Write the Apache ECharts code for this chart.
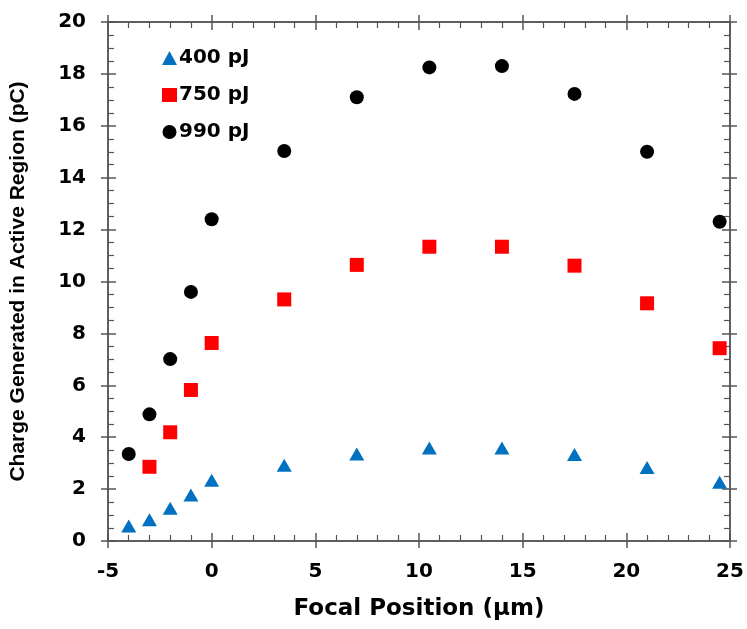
<!DOCTYPE html>
<html>
<head>
<meta charset="utf-8">
<script src="https://cdn.jsdelivr.net/npm/echarts@6/dist/echarts.min.js"></script>
<style>
html,body{margin:0;padding:0;background:#fff;}
#chart{width:747px;height:629px;}
</style>
</head>
<body>
<div id="chart"></div>
<script>
const focalPositions = [-4, -3, -2, -1, 0, 3.5, 7, 10.5, 14, 17.5, 21, 24.5];
const charge400 = [0.58, 0.82, 1.26, 1.77, 2.34, 2.92, 3.35, 3.58, 3.58, 3.33, 2.83, 2.26];
const charge750 = [null, 2.86, 4.19, 5.82, 7.63, 9.31, 10.64, 11.34, 11.34, 10.61, 9.16, 7.43];
const charge990 = [3.35, 4.88, 7.01, 9.6, 12.4, 15.03, 17.1, 18.25, 18.3, 17.23, 15.0, 12.3];
const seriesNames = ['400 pJ', '750 pJ', '990 pJ'];
const xTitle = 'Focal Position (µm)';
const yTitle = 'Charge Generated in Active Region (pC)';

const WIDE = '"DejaVu Sans", sans-serif';
const NARROW = '"Liberation Sans", Arial, sans-serif';
const AX = '#555';

function pairs(vals){
  const out = [];
  focalPositions.forEach((x,i)=>{ if(vals[i]!==null) out.push([x, vals[i]]); });
  return out;
}

function xAx(pos, inside, labels, minor, name){
  return {
    type:'value', position:pos, min:-5, max:25, interval:5,
    axisLine:{show:true, onZero:false, lineStyle:{color:AX, width:1.5}},
    axisTick:{show:true, inside:inside, length:inside?8:7, lineStyle:{color:AX, width:1.5}},
    minorTick:{show:minor, splitNumber:5, length:6, lineStyle:{color:AX, width:1.2}},
    axisLabel:{show:labels, margin:21, color:'#000', fontFamily:WIDE, fontWeight:'bold', fontSize:20},
    splitLine:{show:false},
    name: name || '', nameLocation:'middle', nameGap:57,
    nameTextStyle:{color:'#000', fontFamily:WIDE, fontWeight:'bold', fontSize:23}
  };
}
function yAx(pos, inside, labels, minor, name){
  return {
    type:'value', position:pos, min:0, max:20, interval:2,
    axisLine:{show:true, onZero:false, lineStyle:{color:AX, width:1.5}},
    axisTick:{show:true, inside:inside, length:inside?8:7, lineStyle:{color:AX, width:1.5}},
    minorTick:{show:minor, splitNumber:4, length:6, lineStyle:{color:AX, width:1.2}},
    axisLabel:{show:labels, margin:22, color:'#000', fontFamily:WIDE, fontWeight:'bold', fontSize:20},
    splitLine:{show:false},
    name: name || '', nameLocation:'middle', nameGap:79,
    nameTextStyle:{color:'#000', fontFamily:NARROW, fontWeight:'bold', fontSize:21}
  };
}

const chart = echarts.init(document.getElementById('chart'), null, {renderer:'canvas'});
chart.setOption({
  animation:false,
  backgroundColor:'#fff',
  grid:{left:107, right:17, top:22, bottom:88, containLabel:false},
  legend:{
    orient:'vertical', left:157, top:43, itemWidth:15, itemHeight:14, itemGap:17,
    data:seriesNames,
    textStyle:{color:'#000', fontFamily:WIDE, fontWeight:'bold', fontSize:20, padding:[0,0,0,-3]}
  },
  xAxis:[
    xAx('bottom', true, true, true, xTitle),
    xAx('bottom', false, false, false),
    xAx('top', true, false, true),
    xAx('top', false, false, false)
  ],
  yAxis:[
    yAx('left', true, true, true, yTitle),
    yAx('left', false, false, false),
    yAx('right', true, false, true),
    yAx('right', false, false, false)
  ],
  series:[
    {name:seriesNames[0], type:'scatter', symbol:'triangle', symbolSize:[15,13],
     itemStyle:{color:'#0070C0', opacity:1}, data:pairs(charge400), z:3},
    {name:seriesNames[1], type:'scatter', symbol:'rect', symbolSize:14,
     itemStyle:{color:'#FF0000', opacity:1}, data:pairs(charge750), z:3},
    {name:seriesNames[2], type:'scatter', symbol:'circle', symbolSize:14,
     itemStyle:{color:'#000000', opacity:1}, data:pairs(charge990), z:3}
  ]
});
</script>
</body>
</html>
